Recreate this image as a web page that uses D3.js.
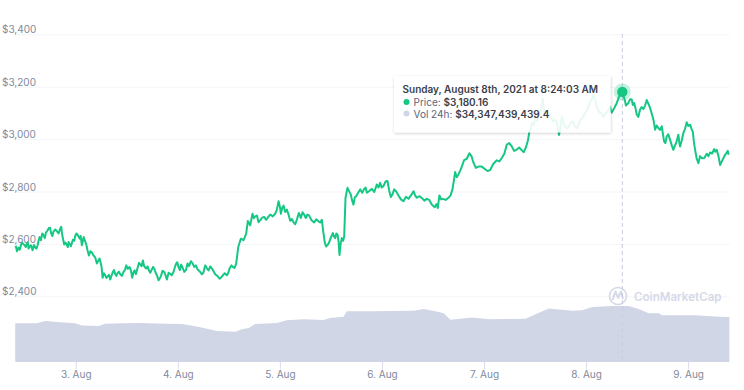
<!DOCTYPE html>
<html><head><meta charset="utf-8">
<style>
html,body{margin:0;padding:0;background:#fff;overflow:hidden}
text{font-family:Inter,"Open Sans",sans-serif}
</style>
<script src="https://cdn.jsdelivr.net/npm/d3@7/dist/d3.min.js"></script>
</head><body><svg id="c" width="744" height="390"></svg>
<script>
const priceDays=[2.407,2.424,2.440,2.463,2.483,2.499,2.522,2.538,2.561,2.577,2.603,2.626,2.646,2.659,2.685,2.708,2.737,2.760,2.783,2.816,2.848,2.868,2.887,2.914,2.930,2.953,2.972,2.995,3.018,3.038,3.060,3.077,3.103,3.129,3.158,3.191,3.207,3.233,3.253,3.263,3.289,3.312,3.338,3.364,3.387,3.410,3.436,3.468,3.495,3.527,3.553,3.576,3.606,3.632,3.658,3.690,3.717,3.746,3.769,3.788,3.811,3.834,3.867,3.893,3.926,3.958,3.984,4.007,4.033,4.063,4.095,4.128,4.161,4.193,4.236,4.268,4.301,4.334,4.366,4.409,4.441,4.481,4.507,4.539,4.572,4.592,4.618,4.644,4.670,4.686,4.709,
4.732,4.758,4.791,4.823,4.866,4.905,4.954,4.987,5.010,5.036,5.068,5.101,5.134,5.166,5.186,5.205,5.222,5.254,5.287,5.336,5.378,5.411,5.427,5.453,5.486,5.519,5.542,5.565,5.584,5.607,5.630,5.643,5.662,5.695,5.721,5.747,5.787,5.826,5.852,5.901,5.950,5.982,6.015,6.054,6.087,6.120,6.162,6.211,6.260,6.309,6.342,6.390,6.439,6.488,6.547,6.563,6.596,6.652,6.691,6.717,6.750,6.805,6.857,6.897,6.946,7.011,7.060,
7.125,7.174,7.223,7.272,7.321,7.370,7.412,7.445,7.468,7.500,7.533,7.576,7.598,7.647,7.706,7.735,7.762,7.794,7.843,7.892,7.941,7.990,8.039,8.072,8.105,8.154,8.186,8.235,8.251,8.300,8.355,
8.382,8.415,8.447,8.470,8.496,8.529,8.562,8.594,8.627,8.660,8.676,8.708,8.741,8.764,8.790,8.823,8.855,8.882,8.904,8.921,8.953,8.986,9.019,9.045,9.068,9.100,9.133,9.182,9.215,9.254,9.280,9.313,9.345,9.378,9.397];
const priceValues=[2586,2572,2586,2595,2601,2595,2601,2582,2595,2576,2586,2595,2626,2614,2633,2643,2661,2639,2648,2648,2659,2633,2598,2595,2607,2591,2616,2630,2635,2620,2595,2626,2598,2556,2567,2548,2525,2544,2512,2471,2480,2476,2464,2493,2484,2489,2484,2493,2518,2512,2471,2499,2509,2522,2537,2506,2499,2503,2506,2486,2461,2476,2493,2464,2486,2493,2525,2512,2521,2493,2525,2534,2512,2503,2484,2518,2499,2506,2484,2467,2480,2480,2506,2512,2525,2588,2620,2614,2639,2687,2671,
2715,2705,2683,2699,2692,2712,2715,2763,2715,2746,2731,2688,2682,2692,2718,2699,2721,2699,2708,2682,2686,2692,2641,2590,2609,2641,2622,2635,2558,2622,2628,2776,2814,2788,2750,2782,2808,2810,2795,2810,2827,2833,2821,2840,2779,2808,2785,2763,2772,2801,2776,2776,2772,2750,2737,2785,2772,2776,2808,2874,2865,2920,2946,2910,2895,2885,2882,
2919,2928,2979,2972,2960,2957,2970,3029,3061,3080,3086,3156,3092,3086,3073,3016,3086,3048,3061,3048,3073,3099,3143,3168,3124,3099,3096,3124,3101,3137,3180.16,
3145,3138,3151,3138,3094,3113,3115,3149,3119,3074,3036,3042,3049,2991,3010,2997,2959,2985,3017,2972,3023,3064,3055,3029,2959,2908,2927,2944,2949,2962,2959,2901,2927,2949,2940];
// finer wiggles read between the points above
const detailDays=[2.415,2.452,2.473,2.51,2.53,2.55,2.59,2.615,2.636,2.672,2.697,2.722,2.748,2.771,2.80,2.832,2.858,2.90,2.922,2.94,2.985,3.007,3.048,3.068,3.09,3.116,3.144,3.175,3.22,3.243,3.276,3.30,3.325,3.35,3.375,3.398,3.423,3.452,3.482,3.51,3.54,3.565,3.59,3.62,3.645,3.67,3.703,3.73,3.757,3.778,3.80,3.82,3.85,3.88,3.91,3.94,3.97,3.995,4.02,4.048,4.08,4.11,4.145,4.177,4.215,4.25,4.285,4.318,4.35,4.388,4.425,4.46,4.495,4.525,4.555,
4.745,4.775,4.807,4.845,4.885,4.93,4.97,5.0,5.023,5.052,5.085,5.118,5.15,5.176,5.195,5.238,5.27,5.31,5.357,5.395,5.44,5.47,5.50,5.53,5.553,5.575,5.595,5.62,5.708,5.734,5.767,5.807,5.84,5.876,5.925,5.966,5.998,6.035,6.07,6.104,6.14,6.186,6.235,6.285,6.325,6.365,6.415,6.463,6.517,6.535,6.58,6.624,6.672,6.704,6.733,6.778,6.831,6.877,6.92,6.978,7.035,7.09,7.15,7.2,7.247,7.295,7.345,7.39,7.43,7.46,7.488,7.52,7.555,7.586,7.62,7.675,7.72,7.75,7.78,7.82,7.865,7.915,7.965,8.015,8.055,8.09,8.13,8.17,8.21,8.243,8.275,8.33,
8.39,8.43,8.458,8.483,8.512,8.545,8.578,8.61,8.645,8.692,8.724,8.752,8.777,8.806,8.84,8.87,8.893,8.912,8.937,8.97,9.002,9.032,9.056,9.084,9.116,9.158,9.198,9.235,9.267,9.297,9.33,9.362,9.388];
const detailValues=[2590,2578,2605,2588,2606,2590,2596,2582,2612,2640,2622,2650,2662,2630,2655,2640,2665,2605,2588,2600,2612,2640,2630,2608,2612,2575,2572,2555,2535,2530,2488,2470,2482,2478,2500,2478,2494,2478,2500,2505,2500,2490,2485,2528,2515,2515,2514,2490,2512,2495,2475,2466,2497,2480,2490,2480,2510,2530,2500,2508,2500,2515,2526,2518,2495,2490,2507,2514,2496,2478,2472,2488,2490,2518,2508,
2698,2708,2690,2703,2702,2705,2730,2742,2738,2722,2712,2695,2675,2705,2710,2712,2712,2690,2694,2682,2605,2597,2625,2628,2640,2610,2600,2612,2765,2778,2795,2795,2815,2802,2798,2815,2815,2838,2805,2790,2800,2770,2780,2785,2785,2782,2765,2768,2740,2752,2770,2768,2785,2840,2855,2890,2925,2935,2890,2895,2878,2905,2915,2945,2985,2955,2968,2950,2995,3040,3052,3070,3105,3120,3095,3068,3050,3050,3060,3040,3068,3042,3082,3115,3150,3150,3100,3085,3105,3110,3118,3170,
3128,3152,3130,3120,3085,3122,3128,3135,3095,3052,3035,3022,2985,3018,2975,2975,3000,2990,2995,3040,3050,3040,2990,2925,2935,2928,2935,2945,2952,2935,2915,2940,2955];
const volumeDays=[2.407,2.620,2.701,2.848,2.995,3.060,3.224,3.289,3.468,3.632,3.877,4.040,4.187,4.285,4.383,4.562,4.628,4.693,4.758,4.970,5.068,5.232,5.427,5.493,5.623,5.656,5.904,6.312,6.410,6.524,6.606,6.671,6.883,7.047,7.210,7.406,7.504,7.634,7.863,7.961,8.059,8.255,8.418,8.516,8.614,8.712,8.744,9.071,9.299,9.404];
const volumeValues=[23.6,23.6,25.0,24.2,23.6,22.2,22.0,23.4,23.6,23.8,23.4,23.2,21.6,20.3,18.9,18.5,19.9,20.7,23.2,23.8,25.4,26.0,25.6,26.8,27.6,30.9,30.9,31.3,32.3,30.9,29.7,25.8,27.2,26.0,26.2,26.4,29.1,32.7,31.3,31.5,33.5,34.2,34.2,32.3,29.7,29.7,28.5,28.5,27.6,27.4];
const yTicks=[2400,2600,2800,3000,3200,3400];
const xTicks=[3,4,5,6,7,8,9];
const xLabels=["3. Aug","4. Aug","5. Aug","6. Aug","7. Aug","8. Aug","9. Aug"];
const hoverDay=8.355, hoverPrice=3180.16;
const tipTitle="Sunday, August 8th, 2021 at 8:24:03 AM";
const tipPrice="$3,180.16", tipVol="$34,347,439,439.4";

const GREEN="#16c784", GREY="#808a9d", VOL="#d1d6e6";
const svg=d3.select("#c");
const x=d3.scaleLinear().domain([2.4,9.405]).range([14.5,729.5]);
const y=d3.scaleLinear().domain([2400,3400]).range([296.3,34.3]);
const v=d3.scaleLinear().domain([0,38]).range([362,299.7]);

const gy=svg.append("g").attr("transform","translate(14.5,0)")
 .call(d3.axisRight(y).tickValues(yTicks).tickSize(715).tickFormat(d=>"$"+d3.format(",")(d)));
gy.select(".domain").remove();
gy.selectAll("line").attr("stroke","#f3f4f7").attr("stroke-width",1);
gy.selectAll("text").attr("x",-12.5).attr("dy",-1.5).attr("text-anchor","start")
 .attr("fill",GREY).style("font-size","10px");

svg.append("path").attr("fill",VOL)
 .attr("d",d3.area().x(d=>x(d[0])).y0(v(0)).y1(d=>v(d[1]))(volumeDays.map((d,i)=>[d,volumeValues[i]])));

const gx=svg.append("g").attr("transform","translate(0,"+v(0)+")")
 .call(d3.axisBottom(x).tickValues(xTicks).tickSize(7).tickPadding(2).tickFormat((d,i)=>xLabels[i]));
gx.select(".domain").remove();
gx.selectAll("line").attr("stroke","#d8dcea");
gx.selectAll("text").attr("fill",GREY).style("font-size","10px");

const wm=svg.append("g").attr("fill","none").attr("stroke","#d5d9e8");
wm.append("circle").attr("cx",618).attr("cy",296).attr("r",8.5).attr("stroke-width",1.6);
wm.append("path").attr("d","M612.5 300 L615.5 291.5 L618 298 L621 291.5 L623 299").attr("stroke-width",2).attr("stroke-linejoin","round");
svg.append("text").attr("x",634).attr("y",301).attr("fill","#d5d9e8").style("font-size","11.6px").style("font-weight",600).text("CoinMarketCap");

const pts=priceDays.map((d,i)=>[d,priceValues[i]]).concat(detailDays.map((d,i)=>[d,detailValues[i]])).sort((a,b)=>a[0]-b[0]);
svg.append("path").attr("fill","none").attr("stroke",GREEN).attr("stroke-width",2).attr("stroke-linejoin","round")
 .attr("d",d3.line().x(d=>x(d[0])).y(d=>y(d[1]))(pts));

svg.append("line").attr("x1",x(hoverDay)).attr("x2",x(hoverDay)).attr("y1",34).attr("y2",v(0))
 .attr("stroke","#c6cbe0").attr("stroke-width",1).attr("stroke-dasharray","4,3");

svg.append("circle").attr("cx",x(hoverDay)).attr("cy",y(hoverPrice)).attr("r",8.5).attr("fill",GREEN).attr("opacity",.25);
svg.append("circle").attr("cx",x(hoverDay)).attr("cy",y(hoverPrice)).attr("r",5.2).attr("fill",GREEN);

const defs=svg.append("defs");
const f=defs.append("filter").attr("id","s").attr("x","-5%").attr("y","-10%").attr("width","110%").attr("height","125%");
f.append("feDropShadow").attr("dx",0.5).attr("dy",1).attr("stdDeviation",1.5).attr("flood-color","#000").attr("flood-opacity",.22);
const t=svg.append("g");
t.append("rect").attr("x",394).attr("y",76).attr("width",216.5).attr("height",56.5).attr("fill","#fff").attr("opacity",.9).attr("filter","url(#s)");
t.append("text").attr("x",402.5).attr("y",93).attr("fill","#3a3f4b").style("font-size","10px").style("font-weight",600).text(tipTitle);
t.append("circle").attr("cx",406.5).attr("cy",102).attr("r",3).attr("fill",GREEN);
t.append("circle").attr("cx",406.5).attr("cy",113.5).attr("r",3).attr("fill",VOL);
const l1=t.append("text").attr("x",413.5).attr("y",105.5).style("font-size","10px").attr("fill","#58667e");
l1.append("tspan").text("Price: ");
l1.append("tspan").attr("fill","#3a3f4b").style("font-weight",600).text(tipPrice);
const l2=t.append("text").attr("x",413.5).attr("y",117.5).style("font-size","10px").attr("fill","#58667e");
l2.append("tspan").text("Vol 24h: ");
l2.append("tspan").attr("fill","#3a3f4b").style("font-weight",600).text(tipVol);
</script></body></html>
